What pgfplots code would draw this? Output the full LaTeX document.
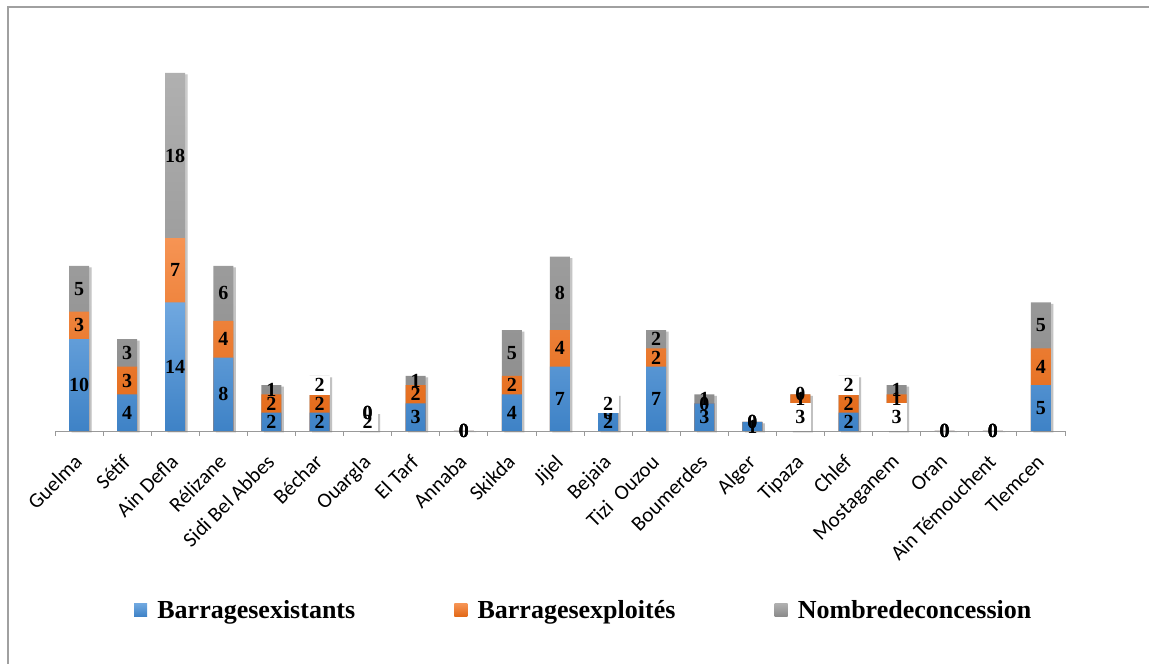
\documentclass[border=0pt]{standalone}
\usepackage{pgfplots}
\pgfplotsset{compat=1.18}
\usepackage{pgfplotstable}
\usepackage{fontspec}
\setmainfont{Liberation Serif}
\newfontfamily\calib{Carlito}
\usetikzlibrary{shadows}

\definecolor{bluetop}{RGB}{112,168,224}
\definecolor{bluebot}{RGB}{62,130,198}
\definecolor{orgtop}{RGB}{246,148,84}
\definecolor{orgbot}{RGB}{226,104,22}
\definecolor{graytop}{RGB}{176,176,176}
\definecolor{graybot}{RGB}{138,138,138}
\definecolor{framegray}{RGB}{160,160,160}

% b = existants, o = exploites, g = concessions
% bb/bg = label drawn on a white box
\pgfplotstableread{
idx b  o  g  bb bg
0   10 3  5  0  0
1   4  3  3  0  0
2   14 7  18 0  0
3   8  4  6  0  0
4   2  2  1  0  0
5   2  2  2  0  1
6   2  0  0  1  0
7   3  2  1  0  0
8   0  0  0  0  0
9   4  2  5  0  0
10  7  4  8  0  0
11  2  0  2  0  1
12  7  2  2  0  0
13  3  0  1  0  0
14  1  0  0  0  0
15  3  1  0  1  0
16  2  2  2  0  1
17  3  1  1  1  0
18  0  0  0  0  0
19  0  0  0  0  0
20  5  4  5  0  0
}\dams

\pgfplotsset{
  lbl/.style={draw=none, mark=none, forget plot, point meta=explicit,
    nodes near coords={\pgfmathprintnumber[assume math mode=true]{\pgfplotspointmeta}},
    every node near coord/.append style={anchor=center,
      font=\bfseries\fontsize{20bp}{20bp}\selectfont, inner sep=0pt,
      fill=white, fill opacity=\bx, text opacity=1,
      minimum width=21bp, minimum height=\hh*9.18bp+0.6bp}},
  bars/.style={ybar, bar width=20bp, draw=none, forget plot},
}

\begin{document}
\begin{tikzpicture}
\path[use as bounding box] (0,0) rectangle (1149bp,664bp);
\begin{axis}[
  at={(55bp,233bp)}, anchor=south west,
  scale only axis, width=1010bp, height=358bp,
  xmin=-0.5, xmax=20.5, ymin=0, ymax=39,
  clip=false,
  axis x line*=bottom, axis y line=none,
  x axis line style={-, draw=black!40, line width=0.8bp},
  xtick={0,...,20},
  xticklabels={Guelma,Sétif,Ain Defla,Rélizane,Sidi Bel Abbes,Béchar,Ouargla,El Tarf,Annaba,Skikda,Jijel,Bejaia,Tizi\ \ Ouzou,Boumerdes,Alger,Tipaza,Chlef,Mostaganem,Oran,Ain Témouchent,Tlemcen},
  major tick length=0pt,
  extra x ticks={-0.5,0.5,...,20.5},
  extra x tick labels={},
  extra x tick style={major tick length=5bp, tick align=outside,
    tick style={draw=black!40, line width=0.8bp}},
  xticklabel style={xshift=-6bp, yshift=-22bp, rotate=45, anchor=north east,
    font=\calib\fontsize{21bp}{24bp}\selectfont, inner sep=0pt},
  legend columns=3,
  legend cell align=left,
  legend style={at={(0.078,-0.5)}, anchor=west, draw=none, fill=none, inner sep=0pt,
    font=\bfseries\fontsize{26bp}{30bp}\selectfont,
    /tikz/every even column/.append style={column sep=97bp}},
  legend image code/.code={\path[#1, draw=none] (0bp,-6.5bp) rectangle (13bp,6.5bp);
    \path (0bp,0bp) (21bp,0bp);},
]
\addplot[bars, top color=graytop, bottom color=graybot,
  drop shadow={shadow xshift=2.5bp, shadow yshift=-1.5bp, opacity=0.3}]
  table[x=idx, y expr=\thisrow{b}+\thisrow{o}+\thisrow{g}] {\dams};
\addplot[bars, top color=orgtop, bottom color=orgbot]
  table[x=idx, y expr=\thisrow{b}+\thisrow{o}] {\dams};
\addplot[bars, top color=bluetop, bottom color=bluebot]
  table[x=idx, y=b] {\dams};

\addplot[lbl, visualization depends on={\thisrow{bb} \as \bx},
  visualization depends on={\thisrow{b} \as \hh}]
  table[x=idx, y expr=\thisrow{b}/2, meta=b] {\dams};
\addplot[lbl, visualization depends on={0 \as \bx},
  visualization depends on={\thisrow{o} \as \hh}]
  table[x=idx, y expr=\thisrow{b}+\thisrow{o}/2, meta=o] {\dams};
\addplot[lbl, visualization depends on={\thisrow{bg} \as \bx},
  visualization depends on={\thisrow{g} \as \hh}]
  table[x=idx, y expr=\thisrow{b}+\thisrow{o}+\thisrow{g}/2, meta=g] {\dams};

\addlegendimage{top color=bluetop, bottom color=bluebot}
\addlegendentry{Barragesexistants}
\addlegendimage{top color=orgtop, bottom color=orgbot}
\addlegendentry{Barragesexploités}
\addlegendimage{top color=graytop, bottom color=graybot}
\addlegendentry{Nombredeconcession}
\end{axis}
\draw[framegray, line width=2bp] (8bp,0) -- (8bp,657bp) -- (1149bp,657bp);
\end{tikzpicture}
\end{document}
